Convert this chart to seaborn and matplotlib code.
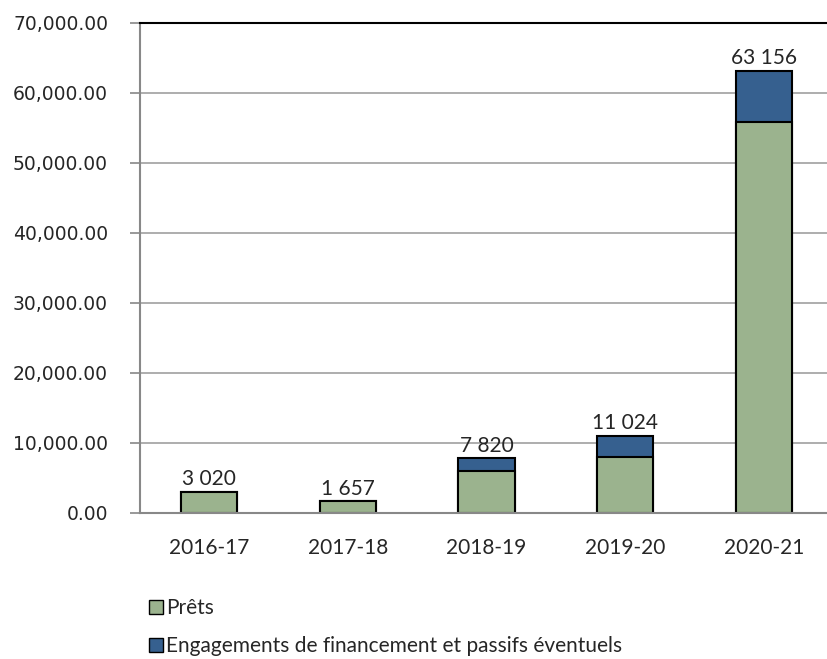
import matplotlib
matplotlib.use('Agg')
import matplotlib.pyplot as plt
import seaborn as sns
import pandas as pd
from matplotlib.patches import Patch
from matplotlib.ticker import FuncFormatter

years = ['2016-17', '2017-18', '2018-19', '2019-20', '2020-21']
prets = [3020, 1657, 6000, 8000, 55800]
engagements = [0, 0, 1820, 3024, 7356]
labels = ['3 020', '1 657', '7 820', '11 024', '63 156']

green = '#9BB38E'
blue = '#36608F'

df = pd.DataFrame({'annee': years, 'prets': prets, 'eng': engagements})
df['total'] = df['prets'] + df['eng']

sns.set_style('white')
plt.rcParams['font.family'] = ['Lato', 'DejaVu Sans']

fig = plt.figure(figsize=(8.28, 6.59), dpi=100)
ax = fig.add_axes([140 / 828, 1 - 513 / 659, 693 / 828, 490 / 659])

# total bar first (blue), loans drawn on top (green)
sns.barplot(data=df, x='annee', y='total', color=blue, width=0.405,
            edgecolor='black', linewidth=1.5, saturation=1, ax=ax)
sns.barplot(data=df, x='annee', y='prets', color=green, width=0.405,
            edgecolor='black', linewidth=1.5, saturation=1, ax=ax)

for i, (t, lab) in enumerate(zip(df['total'], labels)):
    ax.text(i, t + 350, lab, ha='center', va='bottom', fontsize=15)

ax.set_ylim(0, 70000)
ax.set_xlim(-0.5, 4.5)
ax.set_yticks(range(0, 70001, 10000))
ax.yaxis.set_major_formatter(FuncFormatter(lambda v, p: f'{v:,.2f}'))
ax.yaxis.grid(True, color='#A0A0A0', linewidth=1.2)
ax.set_axisbelow(True)
ax.set_xlabel('')
ax.set_ylabel('')

ax.set_xticks([x - 0.5 for x in range(6)], minor=False)
ax.set_xticklabels([])
ax.set_xticks(range(5), minor=True)
ax.set_xticklabels(years, minor=True)
ax.tick_params(axis='x', which='major', length=6, color='#888888', width=1.2, direction='out')
ax.tick_params(axis='x', which='minor', length=0, labelsize=15, pad=18)
ax.tick_params(axis='y', length=7, color='#888888', width=1.2, labelsize=13.5, pad=16,
               left=True, labelfontfamily='DejaVu Sans')

ax.spines['right'].set_visible(False)
ax.spines['top'].set_color('black')
ax.spines['top'].set_linewidth(1.5)
ax.spines['left'].set_color('#888888')
ax.spines['left'].set_linewidth(1.5)
ax.spines['bottom'].set_color('#888888')
ax.spines['bottom'].set_linewidth(1.5)

handles = [Patch(facecolor=green, edgecolor='black', label='Prêts'),
           Patch(facecolor=blue, edgecolor='black',
                 label='Engagements de financement et passifs éventuels')]
fig.legend(handles=handles, loc='upper left', bbox_to_anchor=(141 / 828, 1 - 590 / 659),
           frameon=False, fontsize=15, handlelength=0.65, handleheight=0.65,
           handletextpad=0.15, labelspacing=0.85, borderaxespad=0)

fig.savefig('out.png', dpi=100)
